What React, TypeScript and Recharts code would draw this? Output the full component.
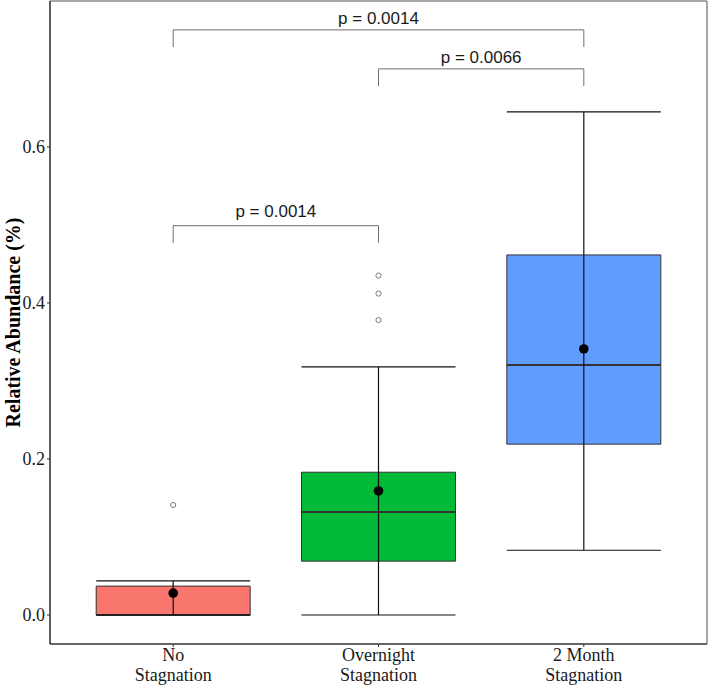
import React from 'react';
import {
  ComposedChart,
  XAxis,
  YAxis,
  Scatter,
  ReferenceArea,
  ReferenceLine,
} from 'recharts';

// ---- data ----
const categoriesTop = ['No', 'Overnight', '2 Month'];
const categoriesBottom = ['Stagnation', 'Stagnation', 'Stagnation'];
const positions = [1, 2, 3];
const whiskerLow = [0, 0, 0.083];
const q1 = [0, 0.069, 0.219];
const medians = [0, 0.132, 0.3205];
const q3 = [0.037, 0.183, 0.4615];
const whiskerHigh = [0.0436, 0.318, 0.645];
const means = [0.028, 0.159, 0.341];
const outliers: number[][] = [[0.141], [0.435, 0.412, 0.378], []];
const boxColors = ['#F8766D', '#00BA38', '#619CFF'];

const bracketFrom = [1, 2, 1];
const bracketTo = [3, 3, 2];
const bracketY = [0.75, 0.7, 0.499];
const bracketTip = 0.022;
const pLabels = ['p = 0.0014', 'p = 0.0066', 'p = 0.0014'];
const pLabelY = [0.765, 0.715, 0.517];

const yTicks = [0, 0.2, 0.4, 0.6];
const yDomain = [-0.0372, 0.787];
const xDomain = [0.4, 3.6];
const boxHalf = 0.375;

const SERIF = '"Liberation Serif", "Times New Roman", serif';
const SANS = '"Liberation Sans", Arial, sans-serif';

const meanData = means.map((m, i) => ({ x: positions[i], y: m }));
const outlierData = outliers.flatMap((arr, i) => arr.map((v) => ({ x: positions[i], y: v })));
const pData = pLabels.map((l, i) => ({ x: (bracketFrom[i] + bracketTo[i]) / 2, y: pLabelY[i], label: l }));

const XTick = (props: any) => {
  const { x, y, payload } = props;
  const idx = positions.indexOf(payload.value);
  if (idx < 0) return null;
  return (
    <text x={x} y={y} textAnchor="middle" fontFamily={SERIF} fontSize={18} fill="#1a1a1a">
      <tspan x={x} dy={12}>{categoriesTop[idx]}</tspan>
      <tspan x={x} dy={20}>{categoriesBottom[idx]}</tspan>
    </text>
  );
};

const YLabel = (props: any) => {
  const vb = props.viewBox || { x: 0, y: 0, width: 50, height: 643 };
  const cx = vb.x + 13;
  const cy = vb.y + vb.height / 2;
  return (
    <text
      x={cx}
      y={cy}
      transform={`rotate(-90, ${cx}, ${cy})`}
      textAnchor="middle"
      dominantBaseline="central"
      fontFamily={SERIF}
      fontWeight="bold"
      fontSize={20}
      fill="#000"
    >
      Relative Abundance (%)
    </text>
  );
};

export default function App() {
  return (
    <div style={{ position: 'absolute', left: 0, top: 0, background: '#fff' }}>
      <ComposedChart width={708} height={686} margin={{ top: 1, right: 1, left: 0, bottom: 0 }}>
        <XAxis
          dataKey="x"
          type="number"
          domain={xDomain}
          ticks={positions}
          allowDataOverflow
          height={42}
          tickSize={3}
          tickMargin={2}
          tick={<XTick />}
          axisLine={{ stroke: '#333', strokeWidth: 1.6 }}
          tickLine={{ stroke: '#333' }}
        />
        <YAxis
          dataKey="y"
          type="number"
          domain={yDomain}
          ticks={yTicks}
          allowDataOverflow
          width={50}
          tickSize={3}
          tickMargin={2}
          tickFormatter={(v: number) => v.toFixed(1)}
          tick={{ fontFamily: SERIF, fontSize: 18, fill: '#1a1a1a' }}
          axisLine={{ stroke: '#333', strokeWidth: 1.6 }}
          tickLine={{ stroke: '#333' }}
          label={{ content: YLabel }}
        />
        {/* panel border top & right */}
        <ReferenceLine
          segment={[{ x: xDomain[0], y: yDomain[1] }, { x: xDomain[1], y: yDomain[1] }]}
          stroke="#8a8a8a"
          strokeWidth={1.5}
          ifOverflow="visible"
        />
        <ReferenceLine
          segment={[{ x: xDomain[1], y: yDomain[0] }, { x: xDomain[1], y: yDomain[1] }]}
          stroke="#8a8a8a"
          strokeWidth={1.5}
          ifOverflow="visible"
        />
        {/* boxes */}
        {positions.map((p, i) => (
          <ReferenceArea
            key={'box' + i}
            x1={p - boxHalf}
            x2={p + boxHalf}
            y1={q1[i]}
            y2={q3[i]}
            fill={boxColors[i]}
            fillOpacity={1}
            stroke="#333"
            strokeWidth={1}
            ifOverflow="visible"
          />
        ))}
        {/* medians */}
        {positions.map((p, i) => (
          <ReferenceLine
            key={'med' + i}
            segment={[{ x: p - boxHalf, y: medians[i] }, { x: p + boxHalf, y: medians[i] }]}
            stroke="#333"
            strokeWidth={2}
            ifOverflow="visible"
          />
        ))}
        {/* whiskers (errorbar) */}
        {positions.map((p, i) => (
          <ReferenceLine
            key={'wv' + i}
            segment={[{ x: p, y: whiskerLow[i] }, { x: p, y: whiskerHigh[i] }]}
            stroke="#111"
            strokeWidth={1.2}
            ifOverflow="visible"
          />
        ))}
        {positions.map((p, i) => (
          <ReferenceLine
            key={'wh' + i}
            segment={[{ x: p - boxHalf, y: whiskerHigh[i] }, { x: p + boxHalf, y: whiskerHigh[i] }]}
            stroke="#111"
            strokeWidth={1.2}
            ifOverflow="visible"
          />
        ))}
        {positions.map((p, i) => (
          <ReferenceLine
            key={'wl' + i}
            segment={[{ x: p - boxHalf, y: whiskerLow[i] }, { x: p + boxHalf, y: whiskerLow[i] }]}
            stroke="#111"
            strokeWidth={1.2}
            ifOverflow="visible"
          />
        ))}
        {/* significance brackets */}
        {bracketFrom.map((f, i) => (
          <ReferenceLine
            key={'br' + i}
            segment={[{ x: f, y: bracketY[i] }, { x: bracketTo[i], y: bracketY[i] }]}
            stroke="#707070"
            strokeWidth={1}
            ifOverflow="visible"
          />
        ))}
        {bracketFrom.map((f, i) => (
          <ReferenceLine
            key={'brl' + i}
            segment={[{ x: f, y: bracketY[i] }, { x: f, y: bracketY[i] - bracketTip }]}
            stroke="#707070"
            strokeWidth={1}
            ifOverflow="visible"
          />
        ))}
        {bracketTo.map((t, i) => (
          <ReferenceLine
            key={'brr' + i}
            segment={[{ x: t, y: bracketY[i] }, { x: t, y: bracketY[i] - bracketTip }]}
            stroke="#707070"
            strokeWidth={1}
            ifOverflow="visible"
          />
        ))}
        <Scatter
          data={outlierData}
          dataKey="y"
          isAnimationActive={false}
          shape={(pr: any) => (
            <circle cx={pr.cx} cy={pr.cy} r={2.6} fill="#fff" stroke="#7a7a7a" strokeWidth={1} />
          )}
        />
        <Scatter
          data={meanData}
          dataKey="y"
          isAnimationActive={false}
          shape={(pr: any) => <circle cx={pr.cx} cy={pr.cy} r={4.8} fill="#000" />}
        />
        <Scatter
          data={pData}
          dataKey="y"
          isAnimationActive={false}
          shape={(pr: any) => (
            <text
              x={pr.cx}
              y={pr.cy}
              textAnchor="middle"
              dominantBaseline="central"
              fontFamily={SANS}
              fontSize={17}
              fill="#1a1a1a"
            >
              {pr.payload.label}
            </text>
          )}
        />
      </ComposedChart>
    </div>
  );
}
